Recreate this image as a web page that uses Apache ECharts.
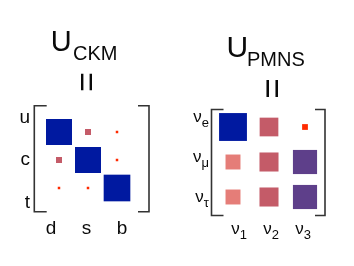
<!DOCTYPE html>
<html><head><meta charset="utf-8">
<script src="https://cdn.jsdelivr.net/npm/echarts@6/dist/echarts.min.js"></script>
<style>html,body{margin:0;padding:0;background:#fff}#c{width:354px;height:266px}</style>
</head><body><div id="c"></div>
<script>
// ---- data ----
const ckmRows = ['u', 'c', 't'];
const ckmCols = ['d', 's', 'b'];
const ckmRowU = [0.974, 0.225, 0.004];
const ckmRowC = [0.225, 0.973, 0.041];
const ckmRowT = [0.009, 0.040, 0.999];

const pmnsRows = ['e', 'μ', 'τ'];
const pmnsCols = ['1', '2', '3'];
const pmnsRowE = [0.82, 0.55, 0.17];
const pmnsRowMu = [0.44, 0.56, 0.71];
const pmnsRowTau = [0.44, 0.56, 0.71];

// ---- build ----
function cells(rows) {
  const out = [];
  rows.forEach((r, ri) => r.forEach((v, ci) => out.push([ci, ri, v])));
  return out;
}
const ckmData = cells([ckmRowU, ckmRowC, ckmRowT]);
const pmnsData = cells([pmnsRowE, pmnsRowMu, pmnsRowTau]);

const FONT = '"Liberation Sans", Arial, sans-serif';
const BLUE = '#0019A0', PINK = '#C45B68', SALMON = '#E57D78', PURPLE = '#5E3F8A', RED = '#FF2A00';
const INK = '#333';
const TEXT = '#0a0a0a';

const hiddenVal = (gi, inv) => ({
  type: 'value', gridIndex: gi, min: -0.5, max: 2.5, inverse: !!inv, show: false,
  splitLine: { show: false }
});
const labelAxis = (gi, data, margin, extra) => ({
  type: 'category', gridIndex: gi, data: data, boundaryGap: false,
  axisLine: { show: false }, axisTick: { show: false }, splitLine: { show: false },
  axisLabel: Object.assign({ interval: 0, margin: margin, color: TEXT, fontFamily: FONT }, extra)
});

const nuRich = {
  a: { fontSize: 17, fontFamily: FONT, color: TEXT },
  b: { fontSize: 13, fontFamily: FONT, color: TEXT, padding: [13, 0, 0, 0] }
};
const nuFmt = v => '{a|ν}{b|' + v + '}';

const chart = echarts.init(document.getElementById('c'), null, { renderer: 'canvas' });
const bracket = (x1, x2, xt, y1, y2) => ({
  type: 'polyline', silent: true,
  shape: { points: [[xt, y1], [x1, y1], [x1, y2], [xt, y2]] },
  style: { stroke: INK, lineWidth: 1.6, fill: null }
});
const txt = (x, y, text, size, align) => ({
  type: 'text', x: x, y: y, silent: true,
  style: { text: text, font: size + 'px ' + FONT, fill: TEXT, align: align || 'left', verticalAlign: 'middle' }
});

chart.setOption({
  animation: false,
  backgroundColor: '#fff',
  grid: [
    { left: 44.5, top: 118, width: 87, height: 84 },
    { left: 51, top: 118, width: 71, height: 84.5 },
    { left: 215, top: 109.5, width: 108, height: 105 },
    { left: 239, top: 117, width: 64, height: 80 }
  ],
  xAxis: [
    hiddenVal(0),
    labelAxis(1, ckmCols, 17, { fontSize: 19 }),
    hiddenVal(2),
    labelAxis(3, pmnsCols, 19, { formatter: nuFmt, rich: nuRich })
  ],
  yAxis: [
    hiddenVal(0, true),
    Object.assign(labelAxis(1, ckmRows, 21, { fontSize: 19 }), { inverse: true }),
    hiddenVal(2, true),
    Object.assign(labelAxis(3, pmnsRows, 30, { formatter: nuFmt, rich: nuRich }), { inverse: true })
  ],
  visualMap: [
    { type: 'piecewise', show: false, seriesIndex: 0, dimension: 2,
      pieces: [{ gte: 0.5, color: BLUE }, { gte: 0.1, lt: 0.5, color: PINK }, { lt: 0.1, color: RED }] },
    { type: 'piecewise', show: false, seriesIndex: 1, dimension: 2,
      pieces: [{ gte: 0.78, color: BLUE }, { gte: 0.65, lt: 0.78, color: PURPLE },
               { gte: 0.5, lt: 0.65, color: PINK }, { gte: 0.3, lt: 0.5, color: SALMON },
               { lt: 0.3, color: RED }] }
  ],
  series: [
    { type: 'scatter', xAxisIndex: 0, yAxisIndex: 0, symbol: 'rect', silent: true,
      itemStyle: { opacity: 1 },
      symbolSize: d => Math.max(2.5, d[2] * 26.7), data: ckmData },
    { type: 'scatter', xAxisIndex: 2, yAxisIndex: 2, symbol: 'rect', silent: true,
      itemStyle: { opacity: 1 },
      symbolSize: d => Math.max(2.5, d[2] * 34), data: pmnsData }
  ],
  graphic: [
    bracket(34.3, 149, 46.7, 105.7, 211.7),
    bracket(149, 34.3, 138, 105.7, 211.7),
    bracket(211.5, 325, 223.5, 109.5, 215.5),
    bracket(325, 211.5, 315, 109.5, 215.5),
    txt(50.7, 42.5, 'U', 29),
    txt(73, 54.5, 'CKM', 20),
    txt(226.4, 49, 'U', 30),
    txt(247, 60, 'PMNS', 20),
    Object.assign(txt(0, 0, '=', 34, 'center'), { x: 89, y: 82, rotation: Math.PI / 2 }),
    Object.assign(txt(0, 0, '=', 35, 'center'), { x: 274.5, y: 88.5, rotation: Math.PI / 2 })
  ]
});
</script></body></html>
